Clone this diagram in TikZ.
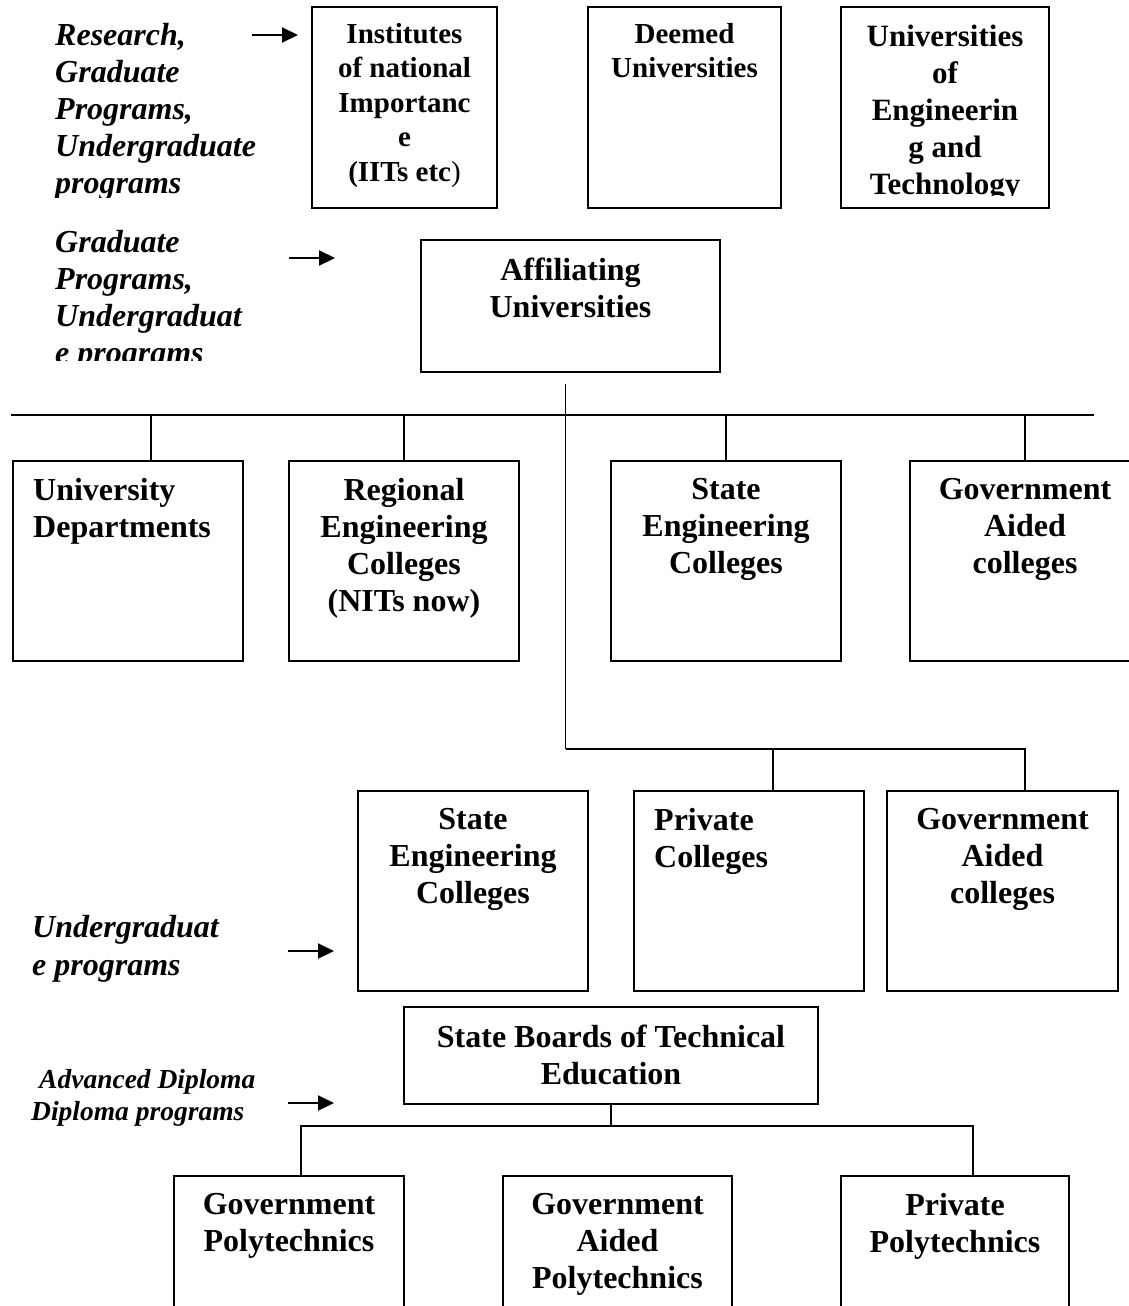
\documentclass[tikz,border=0pt]{standalone}
\usepackage{fontspec}
\setmainfont{Liberation Serif}
\usetikzlibrary{arrows.meta}
\tikzset{
	edu box/.style={
		draw=black, line width=2pt,
		minimum width=230pt, minimum height=200pt,
		anchor=north west, inner sep=0pt
	},
	edu text/.style={
		font=\fontsize{32}{37}\selectfont\bfseries,
		align=center, inner sep=0pt, anchor=north
	},
	edu left/.style={
		edu text, align=left, anchor=north west
	},
	prog text/.style={
		font=\fontsize{32}{37}\selectfont\bfseries\itshape,
		align=left, inner sep=0pt, anchor=north west
	},
	prog arrow/.style={
		-{Triangle[length=16pt, width=15pt]}, line width=2pt
	},
	edu link/.style={line width=1.5pt},
	edu bus/.style={line width=2.5pt}
}

\begin{document}
\begin{tikzpicture}[x=1pt, y=-1pt]
	\useasboundingbox (0,0) rectangle (1129,1306);
	\clip (0,0) rectangle (1129,1306);
	
	% universities
	\node[edu box, minimum width=185pt, minimum height=201pt] (IoNI) at (311,6) {};
	\node[edu box, minimum width=193pt, minimum height=201pt] (DU) at (587,6) {};
	\node[edu box, minimum width=208pt, minimum height=201pt] (UET) at (840,6) {};
	\node[edu text, font=\fontsize{29}{34.5}\selectfont\bfseries] (IoNI-t) at ([yshift=-17pt]IoNI.north)
		{Institutes\\of national\\Importanc\\e\\(IITs etc\textmd{)}};
	\node[edu text, font=\fontsize{29}{34.5}\selectfont\bfseries] (DU-t) at ([yshift=-17pt]DU.north)
		{Deemed\\Universities};
	\begin{scope}
		\clip (840,6) rectangle (1048,195);
		\node[edu text, font=\fontsize{31}{37}\selectfont\bfseries] (UET-t) at ([yshift=-19pt]UET.north)
			{Universities\\of\\Engineerin\\g and\\Technology};
	\end{scope}
	
	\node[edu box, minimum width=299pt, minimum height=132pt] (AU) at (420,239) {};
	\node[edu text] (AU-t) at ([yshift=-19pt]AU.north) {Affiliating\\Universities};
	
	% colleges
	\node[edu box] (UD) at (12,460) {};
	\node[edu box] (REC) at (288,460) {};
	\node[edu box] (SEC) at (610,460) {};
	\node[edu box] (GAC) at (909,460) {};
	\node[edu box] (SEC2) at (357,790) {};
	\node[edu box] (PC) at (633,790) {};
	\node[edu box, minimum width=231pt] (GAC2) at (886,790) {};
	
	\node[edu left] (UD-t) at ([shift={(21pt,-18pt)}]UD.north west) {University\\Departments};
	\node[edu left] (PC-t) at ([shift={(21pt,-18pt)}]PC.north west) {Private\\Colleges};
	\foreach \b/\t in {REC/{Regional\\Engineering\\Colleges\\(NITs now)}, SEC/{State\\Engineering\\Colleges},
		GAC/{Government\\Aided\\colleges}, SEC2/{State\\Engineering\\Colleges}, GAC2/{Government\\Aided\\colleges}} {
		\node[edu text] (\b-t) at ([yshift=-18pt]\b.north) {\t};
	}
	
	% polytechnics
	\node[edu box, minimum width=414pt, minimum height=97pt] (SBTE) at (403,1006) {};
	\node[edu text] (SBTE-t) at ([yshift=-19pt]SBTE.north) {State Boards of Technical\\Education};
	\node[edu box] (GP) at (173,1175) {};
	\node[edu box, minimum width=229pt] (GAP) at (502,1175) {};
	\node[edu box, minimum width=228pt] (PP) at (840,1175) {};
	\foreach \b/\t in {GP/{Government\\Polytechnics}, GAP/{Government\\Aided\\Polytechnics},
		PP/{Private\\Polytechnics}} {
		\node[edu text] (\b-t) at ([yshift=-18pt]\b.north) {\t};
	}
	
	% programs
	\begin{scope}
		\clip (0,0) rectangle (300,197);
		\node[prog text] (res) at (55,23) {Research,\\Graduate\\Programs,\\Undergraduate\\programs};
	\end{scope}
	\begin{scope}
		\clip (0,220) rectangle (300,360);
		\node[prog text] (grad) at (55,230) {Graduate\\Programs,\\Undergraduat\\e programs};
	\end{scope}
	\node[prog text, font=\fontsize{32}{38}\selectfont\bfseries\itshape] (ug) at (32,915) {Undergraduat\\e programs};
	\node[prog text, font=\fontsize{27.5}{32}\selectfont\bfseries\itshape] (dip) at (31,1069)
		{\hspace*{8pt}Advanced Diploma\\Diploma programs};
	\foreach \i/\x/\y in {1/252/35, 2/289/258, 3/288/951, 4/288/1103} {
		\coordinate (arr\i) at (\x,\y);
		\draw[prog arrow] (arr\i) -- ++(46,0);
	}
	
	% connectors
	\coordinate (trunk) at ([shift={(-5pt,-11pt)}]AU.south);
	\coordinate (bus) at (11,415);
	\coordinate (bus-e) at (1094,415);
	\coordinate (low) at (0,749);
	\coordinate (poly) at (0,1126);
	\draw[edu bus] (bus) -- (bus-e);
	\foreach \b/\dx in {UD/23pt, REC/0pt, SEC/0pt, GAC/0pt} {
		\draw[edu link] ([xshift=\dx]\b.north |- bus) -- ([xshift=\dx]\b.north);
	}
	\draw[edu link] (trunk) -- (trunk |- low);
	\draw[edu bus] (trunk |- low) -| ([xshift=22.5pt]GAC2.north);
	\draw[edu link] ([xshift=24pt]PC.north |- low) -- ([xshift=24pt]PC.north);
	
	\draw[edu link] (SBTE.south) -- (SBTE.south |- poly);
	\draw[edu bus] ([xshift=12pt]GP.north) |- ([xshift=18pt]PP.north |- poly) -- ([xshift=18pt]PP.north);
\end{tikzpicture}
\end{document}
